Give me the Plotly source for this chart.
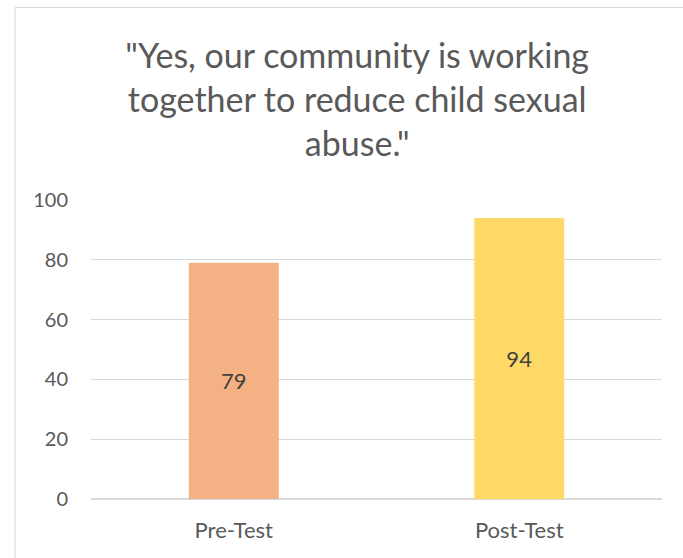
import plotly.graph_objects as go

# Survey response share (%) before and after the program
categories = ["Pre-Test", "Post-Test"]
values = [79, 94]
bar_colors = ["#F4B183", "#FFD966"]
y_ticks = [0, 20, 40, 60, 80, 100]

W, H = 683, 558
ml, mr, mt, mb = 90.5, 20.5, 200, 59
pw, ph = W - ml - mr, H - mt - mb


def px_x(p):
    return (p - ml) / pw


def px_y(p):
    return (H - mb - p) / ph


fig = go.Figure(
    go.Bar(
        x=categories,
        y=values,
        marker=dict(color=bar_colors, line=dict(width=0)),
        text=[str(v) for v in values],
        textposition="inside",
        insidetextanchor="middle",
        textfont=dict(family="Lato", size=22, color="#404040"),
        width=0.315,
        hoverinfo="skip",
    )
)

fig.update_layout(
    width=W,
    height=H,
    margin=dict(l=ml, r=mr, t=mt, b=mb),
    paper_bgcolor="white",
    plot_bgcolor="white",
    showlegend=False,
    title=dict(
        text='"Yes, our community is working<br>together to reduce child sexual<br>abuse."',
        font=dict(family="Lato", size=34, color="#595959"),
        xref="container",
        yref="container",
        x=0.523,
        xanchor="center",
        y=1 - 68 / H,
        yanchor="top",
    ),
    xaxis=dict(
        showgrid=False,
        showline=False,
        ticks="",
        tickfont=dict(family="Lato", size=22, color="#595959"),
        ticklabelstandoff=16,
    ),
    yaxis=dict(
        range=[0, 100],
        tickvals=y_ticks,
        showgrid=True,
        gridcolor="#D9D9D9",
        gridwidth=1,
        zeroline=True,
        zerolinecolor="#D9D9D9",
        zerolinewidth=1.5,
        showline=False,
        ticks="",
        tickfont=dict(family="Lato", size=20, color="#595959"),
        ticklabelstandoff=22,
    ),
    shapes=[
        dict(
            type="rect",
            xref="paper",
            yref="paper",
            x0=px_x(14.5),
            x1=px_x(W + 10),
            y0=px_y(H + 10),
            y1=px_y(7.5),
            line=dict(color="#D9D9D9", width=1),
            fillcolor="rgba(0,0,0,0)",
            layer="below",
        )
    ],
)

fig.write_html("out.html")
